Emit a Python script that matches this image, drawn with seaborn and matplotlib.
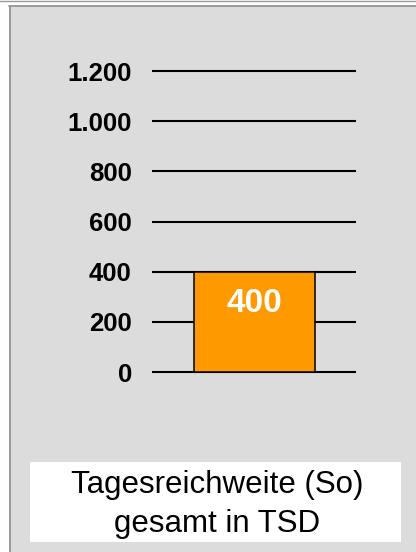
import matplotlib
matplotlib.use("Agg")
import matplotlib.pyplot as plt
from matplotlib.patches import Rectangle
from matplotlib.lines import Line2D
import seaborn as sns
import pandas as pd

# Chart data
categories = ["Tagesreichweite (So) gesamt in TSD"]
values = [400]
tick_values = [0, 200, 400, 600, 800, 1000, 1200]
tick_labels = ["0", "200", "400", "600", "800", "1.000", "1.200"]
caption_lines = ["Tagesreichweite (So)", "gesamt in TSD"]

sns.set_style("white")
plt.rcParams["font.family"] = ["Liberation Sans", "DejaVu Sans"]

W, H = 416, 552
fig = plt.figure(figsize=(W / 100, H / 100), dpi=100)
fig.patch.set_facecolor("white")

def fx(px):
    return px / W

def fy(py):
    return 1 - py / H

# Panel background with frame
fig.patches.append(Rectangle((fx(9), 0), 1 - fx(9), fy(5.5), transform=fig.transFigure,
                             facecolor="#DCDCDC", edgecolor="none", zorder=-3))
fig.lines.append(Line2D([fx(9), 1], [fy(5.5), fy(5.5)], transform=fig.transFigure,
                        color="#9A9A9A", lw=1.4, zorder=-2))
fig.lines.append(Line2D([fx(9.5), fx(9.5)], [0, fy(5.5)], transform=fig.transFigure,
                        color="#9A9A9A", lw=1.4, zorder=-2))
fig.lines.append(Line2D([0, 1], [fy(0.5), fy(0.5)], transform=fig.transFigure,
                        color="#9A9A9A", lw=1.0, zorder=-2))

# Plot area
ymin, ymax = -10, 1210
ppu = (372 - 71) / 1200.0
top_px = 71 - (ymax - 1200) * ppu
bot_px = 372 + (0 - ymin) * ppu
ax = fig.add_axes([fx(152), fy(bot_px), fx(356) - fx(152), fy(top_px) - fy(bot_px)])
ax.set_facecolor("none")
ax.set_zorder(1)

df = pd.DataFrame({"cat": categories, "val": values})
sns.barplot(data=df, x="cat", y="val", ax=ax, color="#FF9900", saturation=1,
            width=121 / 204, edgecolor="black", linewidth=1.1, zorder=3)
ax.set_xlim(-0.5, 0.5)
ax.set_ylim(ymin, ymax)

for v in tick_values:
    ax.axhline(v, color="black", lw=1.5, zorder=1)

ax.set_yticks(tick_values)
ax.set_yticklabels(tick_labels, fontsize=18.5, fontweight="bold", color="black")
ax.tick_params(axis="y", length=0, pad=14.5)
ax.set_xticks([])
ax.set_xlabel("")
ax.set_ylabel("")
for s in ax.spines.values():
    s.set_visible(False)

# Value label inside the bar
for i, v in enumerate(values):
    ax.annotate(f"{v}", xy=(i, v), xytext=(0, -32), textcoords="offset pixels",
                ha="center", va="center", color="white", fontsize=24,
                fontweight="bold", zorder=5)

# Caption box
fig.patches.append(Rectangle((fx(30), fy(542)), fx(401) - fx(30), fy(462) - fy(542),
                             transform=fig.transFigure, facecolor="white",
                             edgecolor="none", zorder=2))
for line, base in zip(caption_lines, [493.3, 531.7]):
    fig.text(fx(217), fy(base), line, ha="center", va="baseline",
             fontsize=22.5, color="black", zorder=3)

fig.savefig("out.png", dpi=100, facecolor=fig.get_facecolor())
